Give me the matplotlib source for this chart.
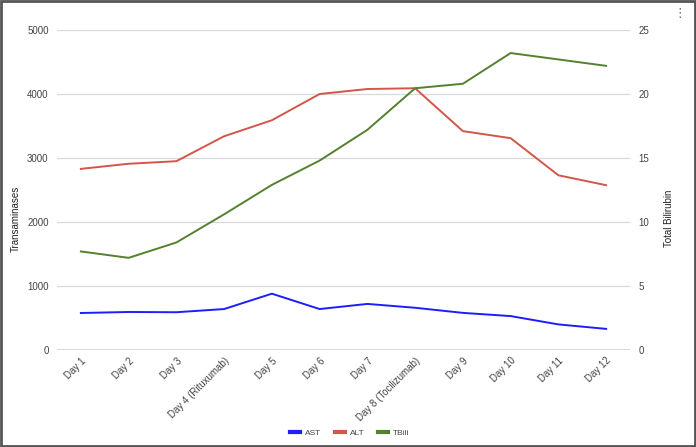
import numpy as np
import matplotlib.pyplot as plt
from matplotlib.patches import Rectangle

plt.rcParams['font.family'] = ['Liberation Sans', 'DejaVu Sans']

days = ["Day 1", "Day 2", "Day 3", "Day 4 (Rituxumab)", "Day 5", "Day 6", "Day 7",
        "Day 8 (Tocilizumab)", "Day 9", "Day 10", "Day 11", "Day 12"]
ast = [578, 594, 590, 640, 880, 640, 720, 660, 580, 530, 400, 330]
alt = [2830, 2910, 2950, 3340, 3590, 4000, 4078, 4090, 3420, 3310, 2730, 2575]
tbili = [7.7, 7.2, 8.4, 10.6, 12.9, 14.8, 17.2, 20.45, 20.8, 23.2, 22.7, 22.2]

x = np.arange(len(days))

fig = plt.figure(figsize=(6.96, 4.47), dpi=100)
ax = fig.add_axes([57/696, 97/447, 573/696, 320/447])
ax2 = ax.twinx()

l1, = ax.plot(x, ast, color='#1d1dff', lw=1.4, label='AST')
l2, = ax.plot(x, alt, color='#d2564a', lw=1.4, label='ALT')
l3, = ax2.plot(x, tbili, color='#55802f', lw=1.4, label='TBili')

ax.set_xlim(-0.5, len(days) - 0.5)
ax.set_ylim(0, 5000)
ax2.set_ylim(0, 25)
ax.set_yticks(np.arange(0, 5001, 1000))
ax2.set_yticks(np.arange(0, 26, 5))

ax.grid(axis='y', color='#d9d9d9', lw=0.9)
ax.set_axisbelow(True)
ax.axhline(0, color='#555555', lw=1.0, zorder=1)

for a in (ax, ax2):
    for s in a.spines.values():
        s.set_visible(False)
    a.tick_params(length=0, labelsize=7, labelcolor='#444444')

ax.tick_params(axis='y', pad=6)
ax2.tick_params(axis='y', pad=6)

ax.set_xticks(x)
ax.set_xticklabels(days, rotation=45, ha='right', rotation_mode='anchor')
ax.tick_params(axis='x', pad=4)

ax.set_ylabel('Transaminases', fontsize=7, color='#222222')
ax2.set_ylabel('Total Bilirubin', fontsize=7, color='#222222')
ax.yaxis.set_label_coords(-0.064, 0.41)
ax2.yaxis.set_label_coords(1.06, 0.41)

fig.legend(handles=[l1, l2, l3], loc='center', bbox_to_anchor=(350/696, 1 - 433/447),
           ncol=3, frameon=False, fontsize=6, handlelength=1.2, handletextpad=0.6,
           columnspacing=1.6, labelcolor='#444444')
for h in fig.legends[0].get_lines():
    h.set_linewidth(3)

fig.text(0.985, 0.985, '\u22ee', ha='right', va='top', fontsize=9, color='#666666',
         family='DejaVu Sans')
fig.patches.append(Rectangle((0.0015, 0.002), 0.997, 0.996, transform=fig.transFigure,
                             fill=False, edgecolor='#555555', lw=2.0))

fig.savefig('out.png', dpi=100)
